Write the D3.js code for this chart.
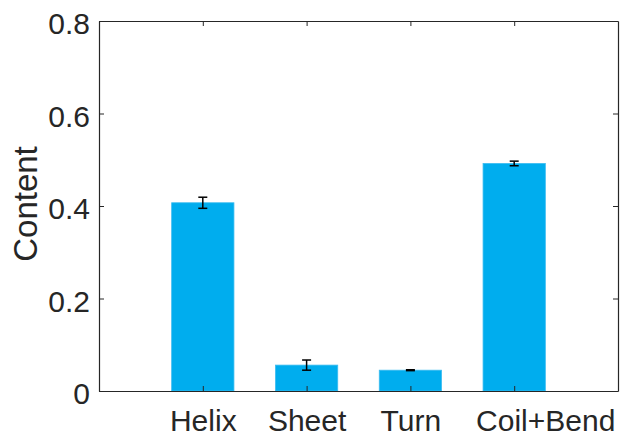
<!DOCTYPE html>
<html>
<head>
<meta charset="utf-8">
<script src="https://cdn.jsdelivr.net/npm/d3@7"></script>
<style>
  body { margin: 0; background: #fff; }
  text { font-family: "Liberation Sans", Arial, sans-serif; fill: #262626; }
</style>
</head>
<body>
<svg id="chart" width="620" height="437"></svg>
<script>
// data
var categories = ["Helix", "Sheet", "Turn", "Coil+Bend"];
var values = [0.407, 0.056, 0.045, 0.492];
var errors = [0.012, 0.011, 0.001, 0.005];
var yTicks = [0, 0.2, 0.4, 0.6, 0.8];

var margin = {top: 21, right: 2, bottom: 46, left: 99};
var width = 620 - margin.left - margin.right;
var height = 437 - margin.top - margin.bottom;

var svg = d3.select("#chart")
  .append("g")
  .attr("transform", "translate(" + margin.left + "," + margin.top + ")");

// x runs 0..5 like matlab, categories sit at 1..4
var x = d3.scaleLinear().domain([0, categories.length + 1]).range([0, width]);
var y = d3.scaleLinear().domain([0, 0.8]).range([height, 0]);
var barW = (x(1) - x(0)) * 0.6;

var data = categories.map(function(c, i) {
  return {name: c, pos: i + 1, v: values[i], e: errors[i]};
});

// bars
svg.selectAll(".bar")
  .data(data)
  .enter().append("rect")
  .attr("class", "bar")
  .attr("x", function(d) { return x(d.pos) - barW / 2; })
  .attr("width", barW)
  .attr("y", function(d) { return y(d.v); })
  .attr("height", function(d) { return y(0) - y(d.v); })
  .attr("fill", "#00adee")
  .attr("stroke", "#3cbcf0")
  .attr("stroke-width", 0.8);

// error bars
var cap = 4.5;
var eb = svg.selectAll(".err").data(data).enter().append("g").attr("class", "err")
  .attr("stroke", "#000").attr("stroke-width", 1.5);
eb.append("line")
  .attr("x1", function(d) { return x(d.pos); })
  .attr("x2", function(d) { return x(d.pos); })
  .attr("y1", function(d) { return y(d.v + d.e); })
  .attr("y2", function(d) { return y(d.v - d.e); });
eb.append("line")
  .attr("x1", function(d) { return x(d.pos) - cap; })
  .attr("x2", function(d) { return x(d.pos) + cap; })
  .attr("y1", function(d) { return y(d.v + d.e); })
  .attr("y2", function(d) { return y(d.v + d.e); });
eb.append("line")
  .attr("x1", function(d) { return x(d.pos) - cap; })
  .attr("x2", function(d) { return x(d.pos) + cap; })
  .attr("y1", function(d) { return y(d.v - d.e); })
  .attr("y2", function(d) { return y(d.v - d.e); });

// axes, inward ticks
var xAxis = d3.axisBottom(x)
  .tickValues(data.map(function(d) { return d.pos; }))
  .tickFormat(function(d) { return categories[d - 1]; })
  .tickSize(-5).tickSizeOuter(0).tickPadding(19);
var yAxis = d3.axisLeft(y).tickValues(yTicks)
  .tickFormat(function(d) { return d === 0 ? "0" : d3.format(".1f")(d); })
  .tickSize(-5).tickSizeOuter(0).tickPadding(9);

var gx = svg.append("g").attr("transform", "translate(0," + height + ")").call(xAxis);
var gy = svg.append("g").call(yAxis);
// mirrored ticks on top and right
var gx2 = svg.append("g").call(d3.axisTop(x).tickValues(data.map(function(d) { return d.pos; }))
  .tickFormat("").tickSize(-5).tickSizeOuter(0));
var gy2 = svg.append("g").attr("transform", "translate(" + width + ",0)")
  .call(d3.axisRight(y).tickValues(yTicks).tickFormat("").tickSize(-5).tickSizeOuter(0));

[gx, gy, gx2, gy2].forEach(function(g) {
  g.selectAll("path").attr("stroke", "#262626").attr("stroke-width", 1.2);
  g.selectAll("line").attr("stroke", "#262626");
  g.selectAll("text").attr("font-size", 30).style("font-family", "Liberation Sans, Arial, sans-serif")
    .attr("fill", "#262626");
});
gy.selectAll("text").attr("dy", "0.43em");
// the last label sits right of its tick in the original
gx.selectAll("text").filter(function(d) { return d === categories.length; }).attr("dx", 31);

// y label
svg.append("text")
  .attr("transform", "rotate(-90)")
  .attr("x", -y(0.4) + 2)
  .attr("y", -62)
  .attr("text-anchor", "middle")
  .attr("font-size", 33)
  .text("Content");
</script>
</body>
</html>
